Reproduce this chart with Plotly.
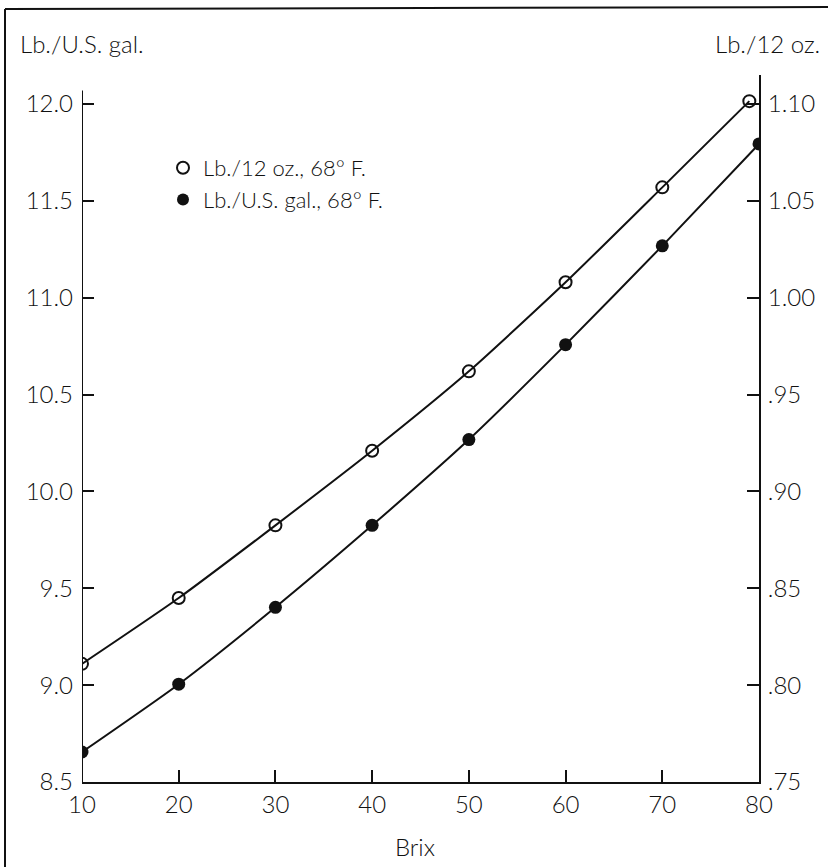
import plotly.graph_objects as go

# Data
brix_oz = [10, 20, 30, 40, 50, 60, 70, 79]
lb_per_12oz = [0.811, 0.845, 0.8825, 0.921, 0.962, 1.008, 1.057, 1.1015]

brix_gal = [10, 20, 30, 40, 50, 60, 70, 80]
lb_per_gal = [8.655, 9.005, 9.402, 9.825, 10.268, 10.758, 11.268, 11.794]

left_ticks = [8.5, 9.0, 9.5, 10.0, 10.5, 11.0, 11.5, 12.0]
left_labels = ["8.5", "9.0", "9.5", "10.0", "10.5", "11.0", "11.5", "12.0"]
right_ticks = [0.75, 0.80, 0.85, 0.90, 0.95, 1.00, 1.05, 1.10]
right_labels = [".75", ".80", ".85", ".90", ".95", "1.00", "1.05", "1.10"]
x_ticks = [10, 20, 30, 40, 50, 60, 70, 80]

legend_oz = "Lb./12 oz., 68° F."
legend_gal = "Lb./U.S. gal., 68° F."

W, H = 828, 867
L, R, T, B = 82, 69, 75, 85
FONT = "Lato"
BLACK = "#111111"

fig = go.Figure()

fig.add_trace(go.Scatter(
    x=brix_oz, y=lb_per_12oz, yaxis="y2", mode="lines+markers",
    line=dict(color=BLACK, width=2, shape="spline", smoothing=0.6),
    marker=dict(symbol="circle-open", size=12, color=BLACK, line=dict(width=2)),
    showlegend=False, hoverinfo="skip",
))
fig.add_trace(go.Scatter(
    x=brix_gal, y=lb_per_gal, mode="lines+markers",
    line=dict(color=BLACK, width=2, shape="spline", smoothing=0.6),
    marker=dict(symbol="circle", size=13, color=BLACK),
    showlegend=False, hoverinfo="skip",
))
# legend entries
fig.add_trace(go.Scatter(
    x=[None], y=[None], mode="markers", name=legend_oz,
    marker=dict(symbol="circle-open", size=11, color=BLACK, line=dict(width=2)),
))
fig.add_trace(go.Scatter(
    x=[None], y=[None], mode="markers", name=legend_gal,
    marker=dict(symbol="circle", size=12, color=BLACK),
))

ytop = 12.15
font = dict(family=FONT, size=24, color=BLACK, weight=300)

fig.update_layout(
    width=W, height=H,
    margin=dict(l=L, r=R, t=T, b=B, autoexpand=False),
    paper_bgcolor="white", plot_bgcolor="white",
    font=font,
    xaxis=dict(
        range=[10, 80], tickvals=x_ticks, ticks="inside", ticklen=12, tickwidth=2,
        tickcolor=BLACK, showline=True, linecolor=BLACK, linewidth=2,
        showgrid=False, zeroline=False, tickfont=font, ticklabelstandoff=0,
        automargin=False,
    ),
    yaxis=dict(
        range=[8.5, ytop], tickvals=left_ticks, ticktext=left_labels,
        ticks="inside", ticklen=12, tickwidth=2, tickcolor=BLACK,
        showline=False, showgrid=False, zeroline=False, tickfont=font,
        ticklabelstandoff=8, automargin=False,
    ),
    yaxis2=dict(
        range=[0.75, 0.75 + (ytop - 8.5) / 10], overlaying="y", side="right",
        tickvals=right_ticks, ticktext=right_labels,
        ticks="inside", ticklen=12, tickwidth=2, tickcolor=BLACK,
        showline=True, linecolor=BLACK, linewidth=2,
        showgrid=False, zeroline=False, tickfont=font, ticklabelstandoff=2,
        automargin=False,
    ),
    legend=dict(
        x=(163 - L) / (W - L - R), y=1 - (147 - T) / (H - T - B),
        xanchor="left", yanchor="top", bgcolor="rgba(0,0,0,0)",
        font=dict(family=FONT, size=22, color=BLACK, weight=300),
        tracegroupgap=0, itemsizing="constant",
    ),
    shapes=[
        # left axis line (shorter than right one)
        dict(type="line", xref="x", yref="y", x0=10, x1=10, y0=8.5, y1=12.07,
             line=dict(color=BLACK, width=2)),
        # outer frame (left and top edges)
        dict(type="line", xref="paper", yref="paper",
             x0=(5 - L) / (W - L - R), x1=(5 - L) / (W - L - R),
             y0=(H - B - H) / (H - T - B), y1=1 + (T - 9) / (H - T - B),
             line=dict(color=BLACK, width=2)),
        dict(type="line", xref="paper", yref="paper",
             x0=(5 - L) / (W - L - R), x1=(W - L) / (W - L - R),
             y0=1 + (T - 9) / (H - T - B), y1=1 + (T - 7) / (H - T - B),
             line=dict(color=BLACK, width=2)),
    ],
    annotations=[
        dict(text="Lb./U.S. gal.", xref="paper", yref="paper",
             x=(18 - L) / (W - L - R), y=1 + (T - 44) / (H - T - B),
             xanchor="left", yanchor="middle", showarrow=False, font=font),
        dict(text="Lb./12 oz.", xref="paper", yref="paper",
             x=(822 - L) / (W - L - R), y=1 + (T - 44) / (H - T - B),
             xanchor="right", yanchor="middle", showarrow=False, font=font),
        dict(text="Brix", xref="paper", yref="paper",
             x=(415 - L) / (W - L - R), y=-(846 - (H - B)) / (H - T - B),
             xanchor="center", yanchor="middle", showarrow=False, font=font),
    ],
)

fig.write_html(
    "out.html",
    config={"displayModeBar": False},
    post_script="document.body.style.margin='0';document.body.style.overflow='hidden';",
)
